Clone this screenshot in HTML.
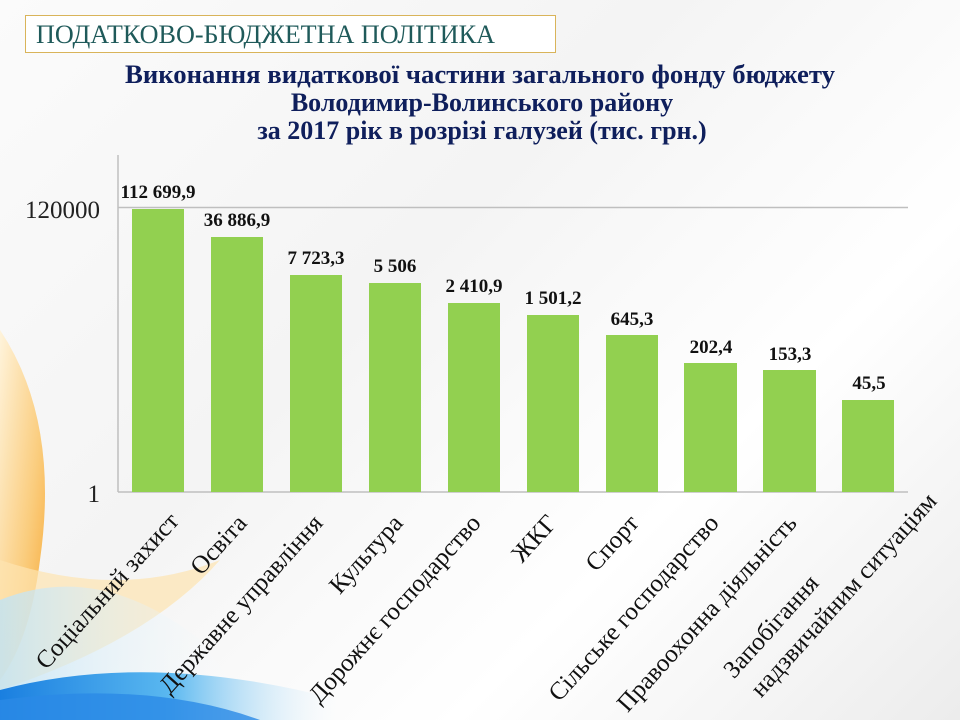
<!DOCTYPE html>
<html><head><meta charset="utf-8"><style>
html,body{margin:0;padding:0}
body{width:960px;height:720px;overflow:hidden;background:linear-gradient(135deg,#fbfbfb 0%,#f4f4f4 40%,#ffffff 70%,#ececec 100%);position:relative;font-family:"Liberation Serif",serif}
svg{position:absolute;left:0;top:0}
</style></head><body>
<svg width="960" height="720" viewBox="0 0 960 720">
<defs>
<linearGradient id="org" x1="0" y1="0" x2="1" y2="1"><stop offset="0" stop-color="#fff3d8"/><stop offset="0.6" stop-color="#fbc870"/><stop offset="1" stop-color="#f7a020"/></linearGradient>
<linearGradient id="blu" x1="0" y1="0" x2="1" y2="0"><stop offset="0" stop-color="#1a7fe0"/><stop offset="0.5" stop-color="#5ab8f0"/><stop offset="1" stop-color="#e8f4fb" stop-opacity="0"/></linearGradient>
<linearGradient id="lb" x1="0" y1="0" x2="1" y2="0"><stop offset="0" stop-color="#bfe3f6"/><stop offset="1" stop-color="#ffffff" stop-opacity="0"/></linearGradient>
</defs>
<path d="M0 330 Q60 420 40 560 Q30 640 0 680 Z" fill="url(#org)" opacity="0.9"/>
<path d="M0 560 Q120 600 220 560 Q150 640 0 690 Z" fill="#fde4b0" opacity="0.7"/>
<path d="M0 600 Q100 560 200 640 L260 720 L0 720 Z" fill="url(#lb)" opacity="0.8"/>
<path d="M0 690 Q150 650 340 700 L340 720 L0 720 Z" fill="url(#blu)"/>
<path d="M0 700 Q150 680 260 720 L0 720 Z" fill="#2a8ae6" opacity="0.8"/>
<rect x="25.5" y="15.5" width="530" height="37" fill="#fff" stroke="#d9b45a" stroke-width="1"/>
<text x="36" y="43" font-size="26" fill="#1f5a5a" font-family="Liberation Serif,serif" textLength="459" lengthAdjust="spacingAndGlyphs">ПОДАТКОВО-БЮДЖЕТНА ПОЛІТИКА</text>
<g font-size="26" font-weight="bold" fill="#0f1f5c" text-anchor="middle" font-family="Liberation Serif,serif">
<text x="480" y="83" textLength="710" lengthAdjust="spacingAndGlyphs">Виконання видаткової частини загального фонду бюджету</text>
<text x="482" y="111">Володимир-Волинського району</text>
<text x="482" y="139">за 2017 рік в розрізі галузей (тис. грн.)</text>
</g>
<line x1="118" y1="155" x2="118" y2="492" stroke="#bfbfbf" stroke-width="1.5"/>
<line x1="118" y1="207.5" x2="908" y2="207.5" stroke="#bfbfbf" stroke-width="1.5"/>
<line x1="118" y1="492" x2="908" y2="492" stroke="#bfbfbf" stroke-width="1.5"/>
<text x="100" y="218" font-size="25" text-anchor="end" fill="#222">120000</text>
<text x="100" y="502" font-size="25" text-anchor="end" fill="#222">1</text>
<g fill="#92d050">
<rect x="132" y="209" width="52" height="283"/>
<rect x="211" y="237" width="52" height="255"/>
<rect x="290" y="275" width="52" height="217"/>
<rect x="369" y="283" width="52" height="209"/>
<rect x="448" y="303" width="52" height="189"/>
<rect x="527" y="315" width="52" height="177"/>
<rect x="606" y="335" width="52" height="157"/>
<rect x="684" y="363" width="53" height="129"/>
<rect x="763" y="370" width="53" height="122"/>
<rect x="842" y="400" width="52" height="92"/>
</g>
<g font-size="19" font-weight="bold" text-anchor="middle" fill="#111">
<text x="158" y="198">112 699,9</text>
<text x="237" y="226">36 886,9</text>
<text x="316" y="264">7 723,3</text>
<text x="395" y="272">5 506</text>
<text x="474" y="292">2 410,9</text>
<text x="553" y="304">1 501,2</text>
<text x="632" y="325">645,3</text>
<text x="711" y="353">202,4</text>
<text x="790" y="360">153,3</text>
<text x="869" y="389">45,5</text>
</g>
<g font-size="25" text-anchor="end" fill="#111">
<text transform="translate(180,522) rotate(-48)">Соціальний захист</text>
<text transform="translate(248,524) rotate(-48)">Освіта</text>
<text transform="translate(324,524) rotate(-48)">Державне управління</text>
<text transform="translate(404,524) rotate(-48)">Культура</text>
<text transform="translate(482,524) rotate(-48)">Дорожнє господарство</text>
<text transform="translate(558,524) rotate(-48)">ЖКГ</text>
<text transform="translate(640,524) rotate(-48)">Спорт</text>
<text transform="translate(720,524) rotate(-48)">Сільське господарство</text>
<text transform="translate(798,524) rotate(-48)">Правоохонна діяльність</text>
<text transform="translate(820,584) rotate(-48)">Запобігання</text>
<text transform="translate(938,502) rotate(-48)">надзвичайним ситуаціям</text>
</g>
</svg>
</body></html>
